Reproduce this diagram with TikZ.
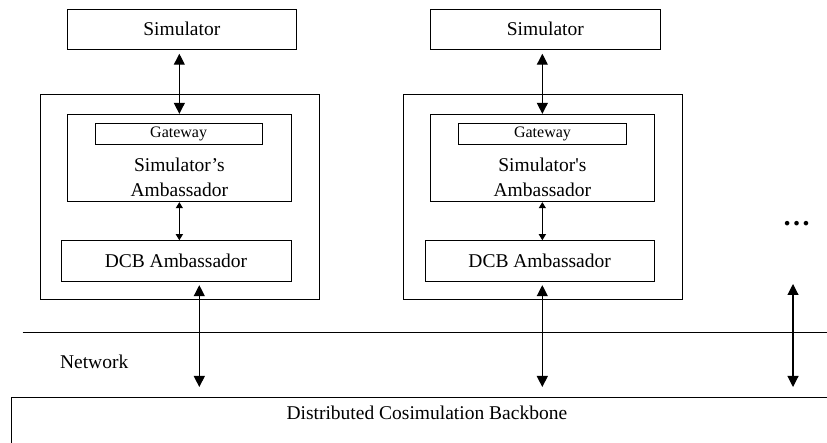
\documentclass[tikz,border=0pt]{standalone}
\usepackage{fontspec}
\setmainfont{Liberation Serif}
\usetikzlibrary{arrows.meta}
\tikzset{
  simbox/.style={draw=black,line width=0.9pt,inner sep=0pt,
    font=\fontsize{19.5}{24}\selectfont},
  hostbox/.style={draw=black,line width=0.9pt,inner sep=0pt},
  gatebox/.style={draw=black,line width=0.9pt,inner sep=0pt,
    font=\fontsize{16}{19}\selectfont},
  plaintext/.style={inner sep=0pt,align=center,
    font=\fontsize{19.5}{25}\selectfont},
  linkarc/.style={{Triangle[length=11pt,width=11pt]}-{Triangle[length=11pt,width=11pt]},
    line width=1.1pt},
  innerarc/.style={{Triangle[length=6pt,width=7pt]}-{Triangle[length=6pt,width=7pt]},
    line width=1.1pt}
}

\begin{document}
\begin{tikzpicture}[x=1pt,y=-1pt]
  \useasboundingbox (0,0) rectangle (827,443);

  % first simulator
  \node[simbox,minimum width=228.3pt,minimum height=40pt] (sim1) at (181.85,29.3) {Simulator};
  \node[hostbox,minimum width=279pt,minimum height=205pt] (host1) at (179.5,196.8) {};
  \node[hostbox,minimum width=223.3pt,minimum height=87.4pt] (amb1) at (179.35,158) {};
  \node[gatebox,minimum width=166.7pt,minimum height=20.7pt] (gw1) at (178.65,133.65) {Gateway};
  \node[plaintext] (ambtxt1) at (179.35,177.5) {Simulator’s\\Ambassador};
  \node[simbox,minimum width=230pt,minimum height=41pt] (dcb1) at (176,261.2) {DCB Ambassador};

  % second simulator
  \node[simbox,minimum width=229.3pt,minimum height=40pt] (sim2) at (545.35,29.3) {Simulator};
  \node[hostbox,minimum width=278.7pt,minimum height=205pt] (host2) at (542.65,196.8) {};
  \node[hostbox,minimum width=223.3pt,minimum height=87.4pt] (amb2) at (542.35,158) {};
  \node[gatebox,minimum width=167.6pt,minimum height=20.7pt] (gw2) at (542.5,133.65) {Gateway};
  \node[plaintext] (ambtxt2) at (542.35,177.5) {Simulator\textquotesingle s\\Ambassador};
  \node[simbox,minimum width=228.7pt,minimum height=41pt] (dcb2) at (539.65,261.2) {DCB Ambassador};

  \node[font=\bfseries\fontsize{28}{28}\selectfont,inner sep=0pt] (more) at (796.5,224) {…};

  % network and backbone
  \draw[line width=0.9pt] (22.7,332) -- (827,332);
  \node[plaintext] (net) at (94.2,362) {Network};
  \node[simbox,anchor=north,minimum width=830.3pt,inner ysep=4pt,text height=18pt,
    text depth=40pt] (backbone) at (426.85,397) {Distributed Cosimulation Backbone};

  \coordinate (bus1) at (199.3,0);
  \coordinate (bus2) at (542.3,0);
  \coordinate (bus3) at (793,284);

  \draw[linkarc,shorten <=4pt] (amb1.north |- sim1.south) -- (amb1.north);
  \draw[innerarc] (amb1.south) -- (amb1.south |- dcb1.north);
  \draw[linkarc,shorten <=3pt,shorten >=10pt] (dcb1.south -| bus1) -- (backbone.north -| bus1);

  \draw[linkarc,shorten <=4pt] (amb2.north |- sim2.south) -- (amb2.north);
  \draw[innerarc] (amb2.south) -- (amb2.south |- dcb2.north);
  \draw[linkarc,shorten <=3pt,shorten >=10pt] (dcb2.south -| bus2) -- (backbone.north -| bus2);

  \draw[linkarc,shorten >=10pt] (bus3) -- (backbone.north -| bus3);
\end{tikzpicture}
\end{document}
